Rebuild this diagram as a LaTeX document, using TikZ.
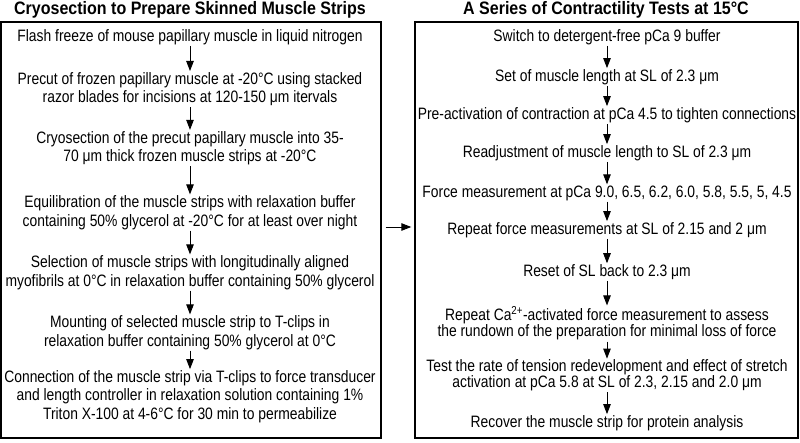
\documentclass[tikz,border=0pt]{standalone}
\usepackage{fontspec}
\setmainfont[FakeStretch=0.84]{Liberation Sans}
\newfontfamily\titlefont[FakeStretch=0.89]{Liberation Sans}
\usetikzlibrary{arrows.meta}
\begin{document}
\begin{tikzpicture}[x=1pt,y=-1pt,
  stepbox/.style={align=center,inner xsep=1pt,inner ysep=0pt,
    font=\fontsize{16.5}{18.5}\selectfont},
  steptight/.style={stepbox,font=\fontsize{16.5}{16}\selectfont},
  titlebox/.style={font=\titlefont\fontsize{18}{20}\selectfont\bfseries,inner sep=0pt},
  panel/.style={draw,line width=1.4pt,inner sep=0pt},
  arr/.style={-{Triangle[length=10pt,width=7.5pt]},line width=0.9pt,shorten <=1pt,shorten >=1pt}]
\useasboundingbox (0,0) rectangle (800,442);
% panels
\node[panel,minimum width=380,minimum height=416] (lbox) at (191,230) {};
\node[panel,minimum width=383,minimum height=416] (rbox) at (606.5,230) {};
% titles
\node[titlebox] (ltitle) at (190,10) {Cryosection to Prepare Skinned Muscle Strips};
\node[titlebox] (rtitle) at (606,10) {A Series of Contractility Tests at 15°C};
% left steps
\node[stepbox] (l1) at (190,37) {Flash freeze of mouse papillary muscle in liquid nitrogen};
\node[stepbox] (l2) at (190,89) {Precut of frozen papillary muscle at -20°C using stacked\\razor blades for incisions at 120-150 μm itervals};
\node[stepbox] (l3) at (190,148) {Cryosection of the precut papillary muscle into 35-\\70 μm thick frozen muscle strips at -20°C};
\node[stepbox] (l4) at (190,212.5) {Equilibration of the muscle strips with relaxation buffer\\containing 50\% glycerol at -20°C for at least over night};
\node[stepbox] (l5) at (190,272.5) {Selection of muscle strips with longitudinally aligned\\myofibrils at 0°C in relaxation buffer containing 50\% glycerol};
\node[stepbox] (l6) at (190,332.5) {Mounting of selected muscle strip to T-clips in\\relaxation buffer containing 50\% glycerol at 0°C};
\node[stepbox] (l7) at (190,396.5) {Connection of the muscle strip via T-clips to force transducer\\and length controller in relaxation solution containing 1\%\\Triton X-100 at 4-6°C for 30 min to permeabilize};
% right steps
\node[stepbox] (r1) at (607,37) {Switch to detergent-free pCa 9 buffer};
\node[stepbox] (r2) at (607,77) {Set of muscle length at SL of 2.3 μm};
\node[stepbox] (r3) at (607,115) {Pre-activation of contraction at pCa 4.5 to tighten connections};
\node[stepbox] (r4) at (607,153) {Readjustment of muscle length to SL of 2.3 μm};
\node[stepbox] (r5) at (607,193) {Force measurement at pCa 9.0, 6.5, 6.2, 6.0, 5.8, 5.5, 5, 4.5};
\node[stepbox] (r6) at (607,230) {Repeat force measurements at SL of 2.15 and 2 μm};
\node[stepbox] (r7) at (607,272) {Reset of SL back to 2.3 μm};
\node[steptight] (r8) at (607,323.5) {Repeat Ca\textsuperscript{2+}-activated force measurement to assess\\the rundown of the preparation for minimal loss of force};
\node[steptight] (r9) at (607,375.5) {Test the rate of tension redevelopment and effect of stretch\\activation at pCa 5.8 at SL of 2.3, 2.15 and 2.0 μm};
\node[stepbox] (r10) at (607,423) {Recover the muscle strip for protein analysis};
% arrows
\foreach \a/\b in {l1/l2,l2/l3,l3/l4,l4/l5,l5/l6,l6/l7,r1/r2,r2/r3,r3/r4,r4/r5,r5/r6,r6/r7,r7/r8,r8/r9,r9/r10}
  \draw[arr] (\a) -- (\b);
\draw[arr,shorten <=4pt,shorten >=3pt] ([yshift=3]lbox.east) -- ([yshift=3]rbox.west);
\end{tikzpicture}
\end{document}
